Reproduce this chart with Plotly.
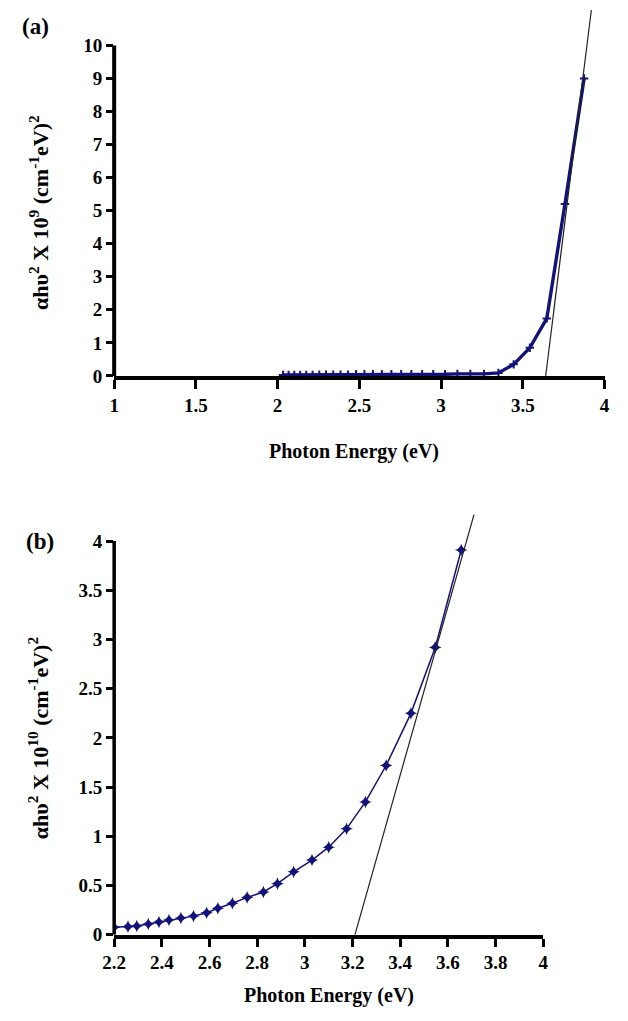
import plotly.graph_objects as go

# ---------------- data ----------------
# panel (a)
energy_a = [2.033, 2.067, 2.102, 2.138, 2.175, 2.214, 2.255, 2.296, 2.340, 2.385,
            2.431, 2.480, 2.531, 2.583, 2.638, 2.696, 2.756, 2.818, 2.884, 2.952,
            3.024, 3.100, 3.179, 3.263, 3.351, 3.444, 3.543, 3.647, 3.758, 3.875]
value_a = [0.03, 0.03, 0.03, 0.03, 0.03, 0.03, 0.04, 0.04, 0.04, 0.04,
           0.04, 0.05, 0.05, 0.05, 0.05, 0.05, 0.05, 0.05, 0.05, 0.05,
           0.05, 0.06, 0.06, 0.06, 0.09, 0.35, 0.85, 1.74, 5.2, 9.0]
fit_a_x = [3.64, 3.925]
fit_a_y = [0.0, 11.3]

# panel (b)
energy_b = [2.200, 2.258, 2.295, 2.343, 2.388, 2.430, 2.480, 2.533, 2.588, 2.635,
            2.696, 2.758, 2.826, 2.885, 2.953, 3.030, 3.100, 3.175, 3.254, 3.341,
            3.445, 3.547, 3.656]
value_b = [0.077, 0.083, 0.090, 0.110, 0.130, 0.150, 0.170, 0.190, 0.224, 0.270,
           0.320, 0.380, 0.435, 0.520, 0.640, 0.760, 0.890, 1.077, 1.350, 1.720,
           2.250, 2.920, 3.910]
fit_b_x = [3.21, 3.725]
fit_b_y = [0.0, 4.40]

ticks_a_x = [1, 1.5, 2, 2.5, 3, 3.5, 4]
labels_a_x = ["1", "1.5", "2", "2.5", "3", "3.5", "4"]
ticks_a_y = [0, 1, 2, 3, 4, 5, 6, 7, 8, 9, 10]
labels_a_y = ["0", "1", "2", "3", "4", "5", "6", "7", "8", "9", "10"]
ticks_b_x = [2.2, 2.4, 2.6, 2.8, 3.0, 3.2, 3.4, 3.6, 3.8, 4.0]
labels_b_x = ["2.2", "2.4", "2.6", "2.8", "3", "3.2", "3.4", "3.6", "3.8", "4"]
ticks_b_y = [0, 0.5, 1, 1.5, 2, 2.5, 3, 3.5, 4]
labels_b_y = ["0", "0.5", "1", "1.5", "2", "2.5", "3", "3.5", "4"]

# ---------------- layout helpers ----------------
W, H = 628, 1021
def px(x):
    return x / W
def py(y):
    return 1 - y / H

def bold(labels):
    return ["<b>" + s + "</b>" for s in labels]

NAVY = "#12127a"
FONT = "Liberation Serif"
tickfont = dict(family=FONT, size=19, color="black")

fig = go.Figure()

# panel (a)
fig.add_trace(go.Scatter(x=energy_a, y=value_a, mode="lines+markers",
                         line=dict(color=NAVY, width=3.4),
                         marker=dict(symbol="cross-thin", size=6,
                                     line=dict(color=NAVY, width=2)),
                         xaxis="x", yaxis="y", showlegend=False))
fig.add_trace(go.Scatter(x=fit_a_x, y=fit_a_y, mode="lines",
                         line=dict(color="#222222", width=1.2),
                         xaxis="x", yaxis="y", showlegend=False))

# panel (b)
fig.add_trace(go.Scatter(x=energy_b, y=value_b, mode="lines+markers",
                         line=dict(color=NAVY, width=1.5),
                         marker=dict(symbol="star-diamond", size=9, color=NAVY),
                         xaxis="x2", yaxis="y2", showlegend=False))
fig.add_trace(go.Scatter(x=fit_b_x, y=fit_b_y, mode="lines",
                         line=dict(color="#222222", width=1.2),
                         xaxis="x2", yaxis="y2", showlegend=False))

# top panel: 0 at 380px, 10 at 46px, plot top at 10px
a_top_val = 10 * (380 - 10) / (380 - 46)
b_top_val = 4 * (945 - 520) / (945 - 547)

axis_common = dict(showgrid=False, zeroline=False, ticks="outside",
                   tickcolor="black", tickfont=tickfont, fixedrange=True,
                   tickmode="array")

fig.update_layout(
    width=W, height=H,
    margin=dict(l=0, r=0, t=0, b=0),
    paper_bgcolor="white", plot_bgcolor="white",
    xaxis=dict(domain=[px(105), px(609)], range=[1, 4],
               tickvals=ticks_a_x, ticktext=bold(labels_a_x),
               showline=True, linewidth=4, linecolor="black",
               ticklen=9, tickwidth=3, anchor="y", **axis_common),
    yaxis=dict(domain=[py(380), py(10)], range=[0, a_top_val],
               tickvals=ticks_a_y, ticktext=bold(labels_a_y), showline=False,
               ticklen=7, tickwidth=3, anchor="x", **axis_common),
    xaxis2=dict(domain=[px(105), px(546)], range=[2.2, 4],
                tickvals=ticks_b_x, ticktext=bold(labels_b_x),
                showline=True, linewidth=3.5, linecolor="black",
                ticklen=8, tickwidth=3, anchor="y2", **axis_common),
    yaxis2=dict(domain=[py(945), py(520)], range=[0, b_top_val],
                tickvals=ticks_b_y, ticktext=bold(labels_b_y), showline=False,
                ticklen=7, tickwidth=3, anchor="x2", **axis_common),
)

# y-axis lines only up to the last tick
fig.add_shape(type="line", xref="paper", yref="y", x0=px(105), x1=px(105),
              y0=0, y1=ticks_a_y[-1], line=dict(color="black", width=4))
fig.add_shape(type="line", xref="paper", yref="y2", x0=px(105), x1=px(105),
              y0=0, y1=ticks_b_y[-1], line=dict(color="black", width=3.5))

title_font = dict(family=FONT, size=20, color="black")
ylab_font = dict(family=FONT, size=22, color="black")
ann = [
    dict(text="<b>(a)</b>", x=px(8), y=py(27), xanchor="left", yanchor="middle",
         font=dict(family=FONT, size=23, color="black")),
    dict(text="<b>(b)</b>", x=px(12), y=py(547), xanchor="left", yanchor="middle",
         font=dict(family=FONT, size=23, color="black")),
    dict(text="<b>Photon Energy (eV)</b>", x=px(352), y=py(456),
         xanchor="center", yanchor="middle", font=title_font),
    dict(text="<b>Photon Energy (eV)</b>", x=px(326), y=py(1006),
         xanchor="center", yanchor="middle", font=title_font),
    dict(text="<b>αhυ<sup>2</sup> X 10<sup>9</sup> (cm<sup>-1</sup>eV)<sup>2</sup></b>",
         x=px(27), y=py(215), xanchor="center", yanchor="middle", textangle=-90,
         font=ylab_font),
    dict(text="<b>αhυ<sup>2</sup> X 10<sup>10</sup> (cm<sup>-1</sup>eV)<sup>2</sup></b>",
         x=px(27), y=py(746), xanchor="center", yanchor="middle", textangle=-90,
         font=ylab_font),
]
for a in ann:
    fig.add_annotation(xref="paper", yref="paper", showarrow=False, **a)

fig.write_html("out.html")
